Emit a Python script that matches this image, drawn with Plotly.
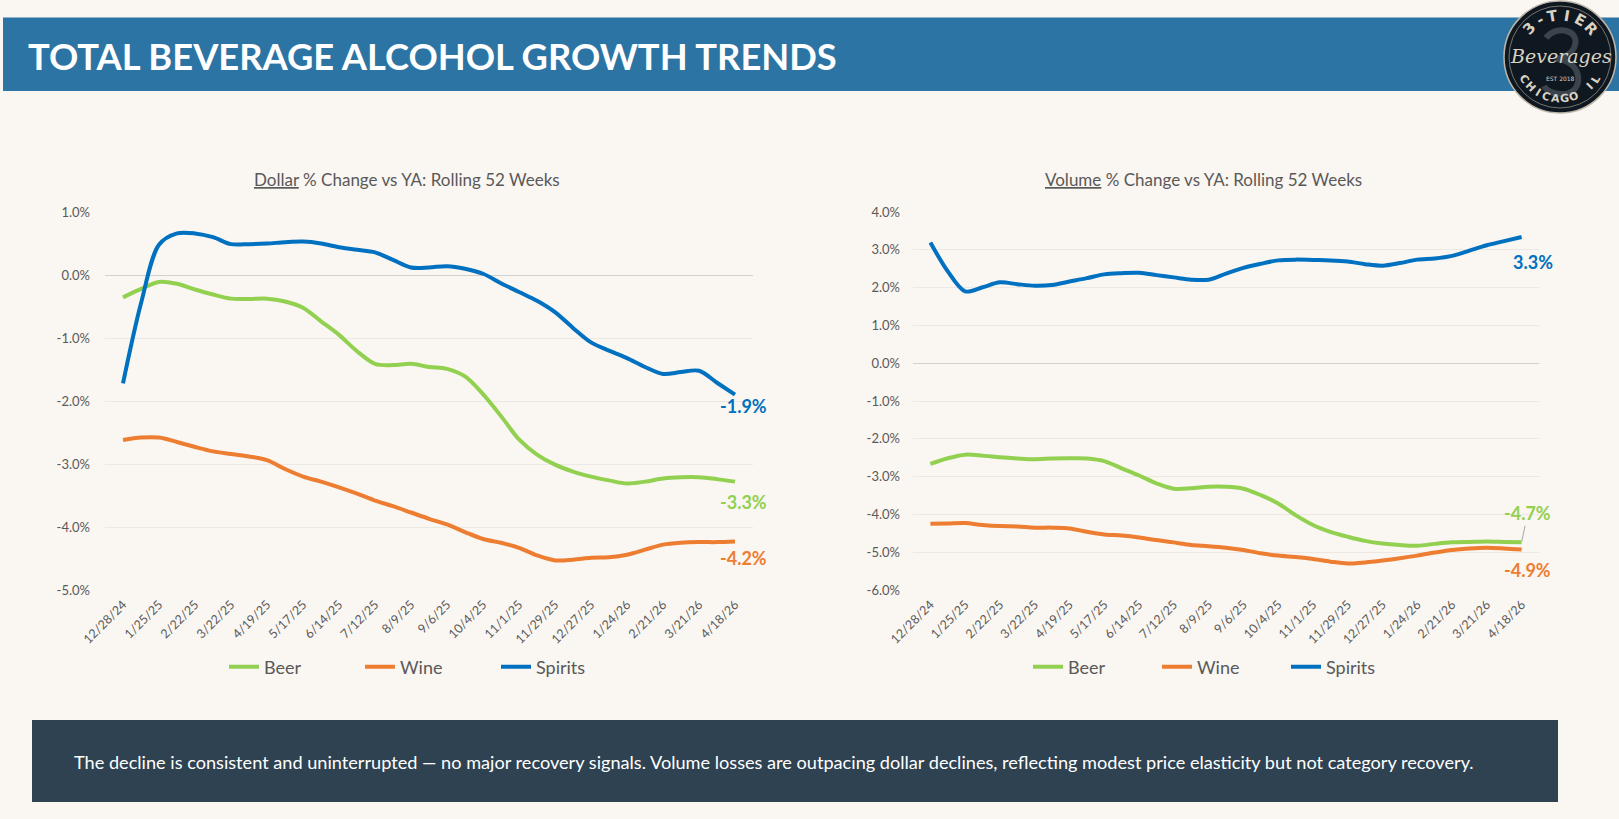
import math
import pandas as pd
import plotly.graph_objects as go

W, H = 1619, 819
BG = "#FAF6F2"
GREY_TXT = "#595959"
C_BEER, C_WINE, C_SPIRITS = "#92D050", "#ED7D31", "#0070C0"
FONT = "Lato"

# ---------------- data ----------------
dates = pd.date_range("2024-12-28", "2026-04-18", freq="14D")  # rolling 52-week periods (every 2nd week)

tick_labels = ["12/28/24", "1/25/25", "2/22/25", "3/22/25", "4/19/25", "5/17/25",
               "6/14/25", "7/12/25", "8/9/25", "9/6/25", "10/4/25", "11/1/25",
               "11/29/25", "12/27/25", "1/24/26", "2/21/26", "3/21/26", "4/18/26"]

dollar_beer = [-0.355, -0.22, -0.11, -0.14, -0.23, -0.31, -0.375, -0.38, -0.375, -0.42,
               -0.52, -0.735, -0.95, -1.21, -1.41, -1.43, -1.41, -1.46, -1.49, -1.61,
               -1.89, -2.24, -2.61, -2.85, -3.01, -3.12, -3.20, -3.26, -3.31, -3.28,
               -3.23, -3.21, -3.21, -3.24, -3.28]
dollar_wine = [-2.62, -2.58, -2.58, -2.65, -2.73, -2.80, -2.84, -2.88, -2.94, -3.08,
               -3.20, -3.28, -3.37, -3.47, -3.58, -3.67, -3.77, -3.87, -3.96, -4.08,
               -4.19, -4.25, -4.33, -4.45, -4.53, -4.52, -4.49, -4.48, -4.44, -4.36,
               -4.28, -4.25, -4.24, -4.24, -4.23]
dollar_spirits = [-1.72, -0.45, 0.48, 0.66, 0.66, 0.60, 0.49, 0.49, 0.50, 0.52,
                  0.53, 0.50, 0.44, 0.40, 0.36, 0.24, 0.12, 0.12, 0.14, 0.10,
                  0.02, -0.13, -0.27, -0.41, -0.59, -0.84, -1.07, -1.20, -1.32, -1.46,
                  -1.57, -1.54, -1.52, -1.71, -1.90]

volume_beer = [-2.665, -2.515, -2.42, -2.445, -2.49, -2.52, -2.54, -2.52, -2.515, -2.52,
               -2.59, -2.78, -2.97, -3.18, -3.32, -3.31, -3.27, -3.27, -3.32, -3.49,
               -3.71, -4.02, -4.28, -4.46, -4.59, -4.70, -4.77, -4.81, -4.83, -4.78,
               -4.74, -4.73, -4.72, -4.73, -4.74]
volume_wine = [-4.25, -4.24, -4.23, -4.28, -4.31, -4.32, -4.35, -4.35, -4.37, -4.46,
               -4.53, -4.56, -4.61, -4.68, -4.74, -4.81, -4.84, -4.88, -4.94, -5.03,
               -5.09, -5.13, -5.18, -5.25, -5.30, -5.27, -5.22, -5.16, -5.09, -5.01,
               -4.94, -4.90, -4.88, -4.90, -4.93]
volume_spirits = [3.195, 2.43, 1.90, 2.01, 2.14, 2.09, 2.05, 2.07, 2.16, 2.25,
                  2.35, 2.38, 2.39, 2.33, 2.27, 2.21, 2.21, 2.37, 2.52, 2.63,
                  2.72, 2.74, 2.73, 2.72, 2.69, 2.62, 2.58, 2.65, 2.74, 2.77,
                  2.84, 2.98, 3.12, 3.23, 3.34]

dollar_yticks = [1.0, 0.0, -1.0, -2.0, -3.0, -4.0, -5.0]
volume_yticks = [4.0, 3.0, 2.0, 1.0, 0.0, -1.0, -2.0, -3.0, -4.0, -5.0, -6.0]

series_names = ["Beer", "Wine", "Spirits"]
series_colors = [C_BEER, C_WINE, C_SPIRITS]

title_text = "TOTAL BEVERAGE ALCOHOL GROWTH TRENDS"
dollar_title = "<u>Dollar</u> % Change vs YA: Rolling 52 Weeks"
volume_title = "<u>Volume</u> % Change vs YA: Rolling 52 Weeks"
note_text = ("The decline is consistent and uninterrupted \u2014 no major recovery signals. "
             "Volume losses are outpacing dollar declines, reflecting modest price elasticity "
             "but not category recovery.")

# ---------------- figure ----------------
def px(x):
    return x / W

def py(y):
    return 1 - y / H

tick_dates = pd.to_datetime(tick_labels, format="%m/%d/%y")
pad = pd.Timedelta(days=14)
xrange_ = [dates[0] - pad, dates[-1] + pad]

fig = go.Figure()

dollar_series = [dollar_beer, dollar_wine, dollar_spirits]
volume_series = [volume_beer, volume_wine, volume_spirits]

for name, color, vals in zip(series_names, series_colors, dollar_series):
    fig.add_trace(go.Scatter(x=dates, y=vals, mode="lines", name=name,
                             line=dict(color=color, width=4, shape="spline", smoothing=0.9),
                             xaxis="x", yaxis="y", legend="legend", hoverinfo="skip"))
for name, color, vals in zip(series_names, series_colors, volume_series):
    fig.add_trace(go.Scatter(x=dates, y=vals, mode="lines", name=name,
                             line=dict(color=color, width=4, shape="spline", smoothing=0.9),
                             xaxis="x2", yaxis="y2", legend="legend2", hoverinfo="skip"))

ydom = [py(590), py(212)]
common_x = dict(type="date", range=xrange_, tickvals=tick_dates, ticktext=tick_labels,
                tickangle=-45, showgrid=False, zeroline=False, showline=False, ticks="",
                automargin=False,
                tickfont=dict(family=FONT, size=12.5, color=GREY_TXT), ticklabelstandoff=4)
common_y = dict(showgrid=True, gridcolor="#ECE9E5", gridwidth=1, zeroline=True,
                zerolinecolor="#D3D1CE", zerolinewidth=1, showline=False, ticks="",
                automargin=False,
                tickfont=dict(family=FONT, size=13, color=GREY_TXT), domain=ydom)

fig.update_layout(
    width=W, height=H,
    margin=dict(l=0, r=0, t=0, b=0, pad=0, autoexpand=False),
    paper_bgcolor=BG, plot_bgcolor=BG,
    font=dict(family=FONT, color=GREY_TXT),
    xaxis=dict(domain=[px(105), px(753)], anchor="y", **common_x),
    xaxis2=dict(domain=[px(913), px(1539)], anchor="y2", **common_x),
    yaxis=dict(anchor="x", range=[-5, 1], tickvals=dollar_yticks,
               ticktext=[f"{v:.1f}%" for v in dollar_yticks], ticklabelstandoff=14, **common_y),
    yaxis2=dict(anchor="x2", range=[-6, 4], tickvals=volume_yticks,
                ticktext=[f"{v:.1f}%" for v in volume_yticks], ticklabelstandoff=12, **common_y),
    legend=dict(orientation="h", x=px(224), xanchor="left", y=py(667), yanchor="middle",
                font=dict(family=FONT, size=18, color=GREY_TXT), bgcolor="rgba(0,0,0,0)",
                entrywidth=91, entrywidthmode="pixels"),
    legend2=dict(orientation="h", x=px(1028), xanchor="left", y=py(667), yanchor="middle",
                 font=dict(family=FONT, size=18, color=GREY_TXT), bgcolor="rgba(0,0,0,0)",
                 entrywidth=84, entrywidthmode="pixels"),
    showlegend=True,
)

shapes = []
# header banner
shapes.append(dict(type="rect", xref="paper", yref="paper", x0=px(3), x1=1, y0=py(91), y1=py(17.5),
                   fillcolor="#2C74A4", line=dict(width=0), layer="below"))
# bottom note box
shapes.append(dict(type="rect", xref="paper", yref="paper", x0=px(32), x1=px(1558), y0=py(802), y1=py(720),
                   fillcolor="#2E4252", line=dict(width=0), layer="below"))
# logo circle
cx, cy, r = 1560, 57, 56
shapes.append(dict(type="circle", xref="paper", yref="paper", x0=px(cx - r), x1=px(cx + r),
                   y0=py(cy + r), y1=py(cy - r), fillcolor="#0F1820",
                   line=dict(color="#BDB6A8", width=1.5), layer="above"))
shapes.append(dict(type="circle", xref="paper", yref="paper", x0=px(cx - r + 5), x1=px(cx + r - 5),
                   y0=py(cy + r - 5), y1=py(cy - r + 5), fillcolor="rgba(0,0,0,0)",
                   line=dict(color="#8F8A80", width=0.8), layer="above"))

# faint decorative "3" glyph of the logo, drawn as a path
def P(x, y):
    return f"{px(x):.6f},{py(y):.6f}"

three_path = ("M " + P(1546, 38) + " C " + P(1556, 24) + " " + P(1582, 30) + " " + P(1574, 48)
              + " C " + P(1570, 56) + " " + P(1562, 58) + " " + P(1556, 59)
              + " C " + P(1584, 60) + " " + P(1586, 96) + " " + P(1560, 94)
              + " C " + P(1552, 94) + " " + P(1546, 90) + " " + P(1544, 86))
shapes.append(dict(type="path", xref="paper", yref="paper", path=three_path,
                   line=dict(color="#3B434C", width=6), fillcolor="rgba(0,0,0,0)", layer="above"))
fig.update_layout(shapes=shapes)

ann = []
ann.append(dict(xref="paper", yref="paper", x=px(26), y=py(56), xanchor="left", yanchor="middle",
                text=f"<b>{title_text}</b>", showarrow=False,
                font=dict(family=FONT, size=36.3, color="white")))
ann.append(dict(xref="paper", yref="paper", x=px(407), y=py(179), xanchor="center", yanchor="middle",
                text=dollar_title, showarrow=False, font=dict(family=FONT, size=17, color=GREY_TXT)))
ann.append(dict(xref="paper", yref="paper", x=px(1203), y=py(179), xanchor="center", yanchor="middle",
                text=volume_title, showarrow=False, font=dict(family=FONT, size=17, color=GREY_TXT)))
ann.append(dict(xref="paper", yref="paper", x=px(72), y=py(762), xanchor="left", yanchor="middle",
                text=note_text, showarrow=False, font=dict(family=FONT, size=18.15, color="white")))

# logo text
LOGO_C = "#D8D2C4"

def arc_text(text, radius, span, top, size):
    n = len(text)
    out = []
    for k, ch in enumerate(text):
        if ch == " ":
            continue
        t = (k - (n - 1) / 2) / max(n - 1, 1) * span
        a = math.radians(t)
        if top:
            x = cx + radius * math.sin(a)
            y = cy - radius * math.cos(a)
            ang = t
        else:
            x = cx + radius * math.sin(a)
            y = cy + radius * math.cos(a)
            ang = -t
        out.append(dict(xref="paper", yref="paper", x=px(x), y=py(y), text=f"<b>{ch}</b>",
                        showarrow=False, textangle=ang, xanchor="center", yanchor="middle",
                        font=dict(family="DejaVu Sans", size=size, color=LOGO_C)))
    return out

ann += arc_text("3-TIER", 42, 96, True, 15)
ann += arc_text("CHICAGO IL", 42, 116, False, 11)
ann.append(dict(xref="paper", yref="paper", x=px(cx + 1), y=py(cy - 1), xanchor="center", yanchor="middle",
                text="<i>Beverages</i>", showarrow=False,
                font=dict(family="DejaVu Serif", size=19, color=LOGO_C)))
ann.append(dict(xref="paper", yref="paper", x=px(cx), y=py(cy + 22), xanchor="center", yanchor="middle",
                text="EST 2018", showarrow=False,
                font=dict(family="DejaVu Sans", size=6, color=LOGO_C)))

# end-of-line value labels
def end_label(xr, yr, vals, color, dx, dy, arrow=False):
    d = dict(xref=xr, yref=yr, x=dates[-1], y=vals[-1], text=f"<b>{vals[-1]:.1f}%</b>",
             xanchor="center", yanchor="middle",
             font=dict(family=FONT, size=18, color=color))
    if arrow:
        d.update(showarrow=True, ax=dx, ay=dy, arrowhead=0, arrowwidth=1, arrowcolor="#A6A6A6",
                 standoff=1, startstandoff=0)
    else:
        d.update(showarrow=False, xshift=dx, yshift=-dy)
    return d

ann.append(end_label("x", "y", dollar_spirits, C_SPIRITS, 8, 11))
ann.append(end_label("x", "y", dollar_beer, C_BEER, 8, 20))
ann.append(end_label("x", "y", dollar_wine, C_WINE, 8, 17))
ann.append(end_label("x2", "y2", volume_spirits, C_SPIRITS, 11, 25))
ann.append(end_label("x2", "y2", volume_beer, C_BEER, 6, -29, arrow=True))
ann.append(end_label("x2", "y2", volume_wine, C_WINE, 6, 20))
fig.update_layout(annotations=ann)

fig.write_html("out.html", config={"displayModeBar": False},
               post_script="document.body.style.margin='0px';")
